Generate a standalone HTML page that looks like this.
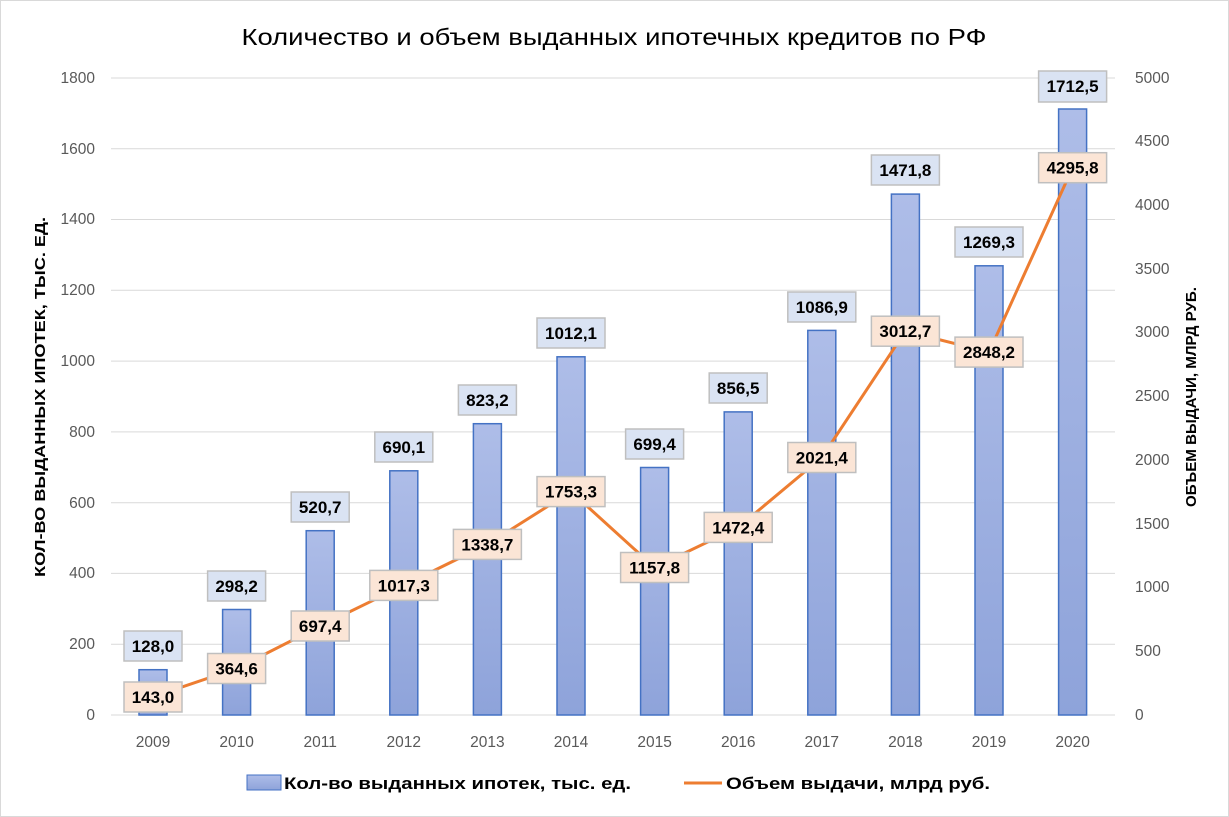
<!DOCTYPE html>
<html><head><meta charset="utf-8"><style>
body{margin:0;background:#fff}
svg{display:block}
text{font-family:"Liberation Sans","DejaVu Sans",sans-serif}
.t{font-size:15.5px;fill:#595959}
.b{font-size:17px;font-weight:bold;fill:#000}
</style></head><body>
<svg width="1229" height="817" viewBox="0 0 1229 817" xmlns="http://www.w3.org/2000/svg">
<defs><linearGradient id="g" x1="0" y1="0" x2="0" y2="1"><stop offset="0" stop-color="#aebde8"/><stop offset="1" stop-color="#8ea3da"/></linearGradient></defs>
<rect x="0.5" y="0.5" width="1228" height="816" fill="#fff" stroke="#d9d9d9"/>
<text x="614" y="45" text-anchor="middle" font-size="23" fill="#000" textLength="745" lengthAdjust="spacingAndGlyphs">Количество  и объем  выданных  ипотечных  кредитов  по РФ</text>
<g stroke="#d9d9d9" stroke-width="1">
<line x1="111" y1="715" x2="1115" y2="715"/><line x1="111" y1="644.2" x2="1115" y2="644.2"/><line x1="111" y1="573.4" x2="1115" y2="573.4"/><line x1="111" y1="502.7" x2="1115" y2="502.7"/><line x1="111" y1="431.9" x2="1115" y2="431.9"/><line x1="111" y1="361.1" x2="1115" y2="361.1"/><line x1="111" y1="290.3" x2="1115" y2="290.3"/><line x1="111" y1="219.5" x2="1115" y2="219.5"/><line x1="111" y1="148.8" x2="1115" y2="148.8"/><line x1="111" y1="78" x2="1115" y2="78"/>
</g>
<g class="t" text-anchor="end">
<text x="95" y="720">0</text><text x="95" y="649">200</text><text x="95" y="578">400</text><text x="95" y="508">600</text><text x="95" y="437">800</text><text x="95" y="366">1000</text><text x="95" y="295">1200</text><text x="95" y="224">1400</text><text x="95" y="154">1600</text><text x="95" y="83">1800</text>
</g>
<g class="t" text-anchor="start">
<text x="1135" y="720">0</text><text x="1135" y="656">500</text><text x="1135" y="592">1000</text><text x="1135" y="529">1500</text><text x="1135" y="465">2000</text><text x="1135" y="401">2500</text><text x="1135" y="337">3000</text><text x="1135" y="274">3500</text><text x="1135" y="210">4000</text><text x="1135" y="146">4500</text><text x="1135" y="83">5000</text>
</g>
<g class="t" text-anchor="middle" fill="#404040">
<text x="153" y="747">2009</text><text x="236.6" y="747">2010</text><text x="320.2" y="747">2011</text><text x="403.8" y="747">2012</text><text x="487.4" y="747">2013</text><text x="571" y="747">2014</text><text x="654.6" y="747">2015</text><text x="738.2" y="747">2016</text><text x="821.8" y="747">2017</text><text x="905.4" y="747">2018</text><text x="989" y="747">2019</text><text x="1072.6" y="747">2020</text>
</g>
<text transform="translate(45,397) rotate(-90)" text-anchor="middle" font-size="15" font-weight="bold" textLength="360" lengthAdjust="spacingAndGlyphs">КОЛ-ВО ВЫДАННЫХ ИПОТЕК, ТЫС. ЕД.</text>
<text transform="translate(1196,397) rotate(-90)" text-anchor="middle" font-size="15" font-weight="bold" textLength="220" lengthAdjust="spacingAndGlyphs">ОБЪЕМ ВЫДАЧИ, МЛРД РУБ.</text>
<g fill="url(#g)" stroke="#4472c4" stroke-width="1.5">
<rect x="139" y="669.7" width="28" height="45.3"/><rect x="222.6" y="609.5" width="28" height="105.5"/><rect x="306.2" y="530.7" width="28" height="184.3"/><rect x="389.8" y="470.8" width="28" height="244.2"/><rect x="473.4" y="423.7" width="28" height="291.3"/><rect x="557" y="356.8" width="28" height="358.2"/><rect x="640.6" y="467.5" width="28" height="247.5"/><rect x="724.2" y="411.9" width="28" height="303.1"/><rect x="807.8" y="330.4" width="28" height="384.6"/><rect x="891.4" y="194.1" width="28" height="520.9"/><rect x="975" y="265.8" width="28" height="449.2"/><rect x="1058.6" y="109" width="28" height="606"/>
</g>
<polyline fill="none" stroke="#ed7d31" stroke-width="3" points="153,696.8 236.6,668.5 320.2,626.1 403.8,585.4 487.4,544.4 571,491.6 654.6,567.5 738.2,527.4 821.8,457.5 905.4,331.2 989,352.1 1072.6,167.7"/>
<g fill="#dae3f3" stroke="#bfbfbf" stroke-width="1.5">
<rect x="124" y="631" width="58" height="30"/><rect x="207.6" y="571" width="58" height="30"/><rect x="291.2" y="492" width="58" height="30"/><rect x="374.8" y="432" width="58" height="30"/><rect x="458.4" y="385" width="58" height="30"/><rect x="537" y="318" width="68" height="30"/><rect x="625.6" y="429" width="58" height="30"/><rect x="709.2" y="373" width="58" height="30"/><rect x="787.8" y="292" width="68" height="30"/><rect x="871.4" y="155" width="68" height="30"/><rect x="955" y="227" width="68" height="30"/><rect x="1038.6" y="71" width="68" height="31"/>
</g>
<g fill="#fbe5d6" stroke="#bfbfbf" stroke-width="1.5">
<rect x="124" y="682" width="58" height="30"/><rect x="207.6" y="653.5" width="58" height="30"/><rect x="291.2" y="611" width="58" height="30"/><rect x="369.8" y="570.4" width="68" height="30"/><rect x="453.4" y="529.4" width="68" height="30"/><rect x="537" y="476.6" width="68" height="30"/><rect x="620.6" y="552.5" width="68" height="30"/><rect x="704.2" y="512.4" width="68" height="30"/><rect x="787.8" y="442.5" width="68" height="30"/><rect x="871.4" y="316.2" width="68" height="30"/><rect x="955" y="337.1" width="68" height="30"/><rect x="1038.6" y="152.7" width="68" height="30"/>
</g>
<g class="b" text-anchor="middle">
<text x="153" y="652">128,0</text><text x="236.6" y="592">298,2</text><text x="320.2" y="513">520,7</text><text x="403.8" y="453">690,1</text><text x="487.4" y="406">823,2</text><text x="571" y="339">1012,1</text><text x="654.6" y="450">699,4</text><text x="738.2" y="394">856,5</text><text x="821.8" y="313">1086,9</text><text x="905.4" y="176">1471,8</text><text x="989" y="248">1269,3</text><text x="1072.6" y="92">1712,5</text>
<text x="153" y="703">143,0</text><text x="236.6" y="674.5">364,6</text><text x="320.2" y="632">697,4</text><text x="403.8" y="591.4">1017,3</text><text x="487.4" y="550.4">1338,7</text><text x="571" y="497.6">1753,3</text><text x="654.6" y="573.5">1157,8</text><text x="738.2" y="533.4">1472,4</text><text x="821.8" y="463.5">2021,4</text><text x="905.4" y="337.2">3012,7</text><text x="989" y="358.1">2848,2</text><text x="1072.6" y="173.7">4295,8</text>
</g>
<rect x="247" y="775" width="34" height="15" fill="url(#g)" stroke="#4472c4"/>
<text x="284" y="789" font-size="17" font-weight="bold" textLength="347" lengthAdjust="spacingAndGlyphs">Кол-во выданных ипотек, тыс. ед.</text>
<line x1="684" y1="783" x2="722" y2="783" stroke="#ed7d31" stroke-width="3"/>
<text x="726" y="789" font-size="17" font-weight="bold" textLength="264" lengthAdjust="spacingAndGlyphs">Объем выдачи, млрд руб.</text>
</svg>
</body></html>
